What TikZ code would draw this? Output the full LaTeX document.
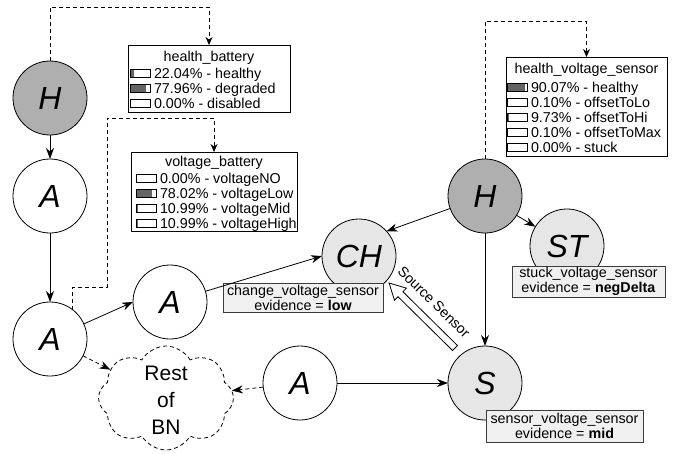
\documentclass[tikz,border=0pt]{standalone}
\usepackage{fontspec}
\setmainfont{Liberation Sans}
\usetikzlibrary{arrows.meta,shapes.symbols,calc}
\definecolor{hgray}{RGB}{175,175,175}
\definecolor{egray}{RGB}{230,230,230}
\definecolor{capgray}{RGB}{240,240,240}
\definecolor{capline}{RGB}{60,60,60}
\definecolor{bargray}{RGB}{100,100,100}
\newcommand{\tabfont}{\fontsize{14.3}{15}\selectfont}
\newcommand{\circfont}{\fontsize{32}{36}\selectfont\itshape}
\newcommand{\probrow}[5]{%
  \fill[bargray] (#2,#3-4) rectangle ++(20*#4,8);
  \draw[line width=0.8pt] (#2,#3-4) rectangle ++(20,8);
  \node[anchor=base west,font=\tabfont] (#1) at (#2+24,#3+5) {#5};
}
\begin{document}
\begin{tikzpicture}[x=1pt,y=-1pt,
  every node/.style={inner sep=0pt,outer sep=0pt},
  circ/.style={circle,draw=black,line width=0.8pt,minimum size=74pt,font=\circfont},
  hn/.style={circ,fill=hgray},
  an/.style={circ,fill=white},
  en/.style={circ,fill=egray},
  arr/.style={line width=0.8pt,-{Stealth[length=11pt,width=8pt]}},
  darr/.style={arr,dash pattern=on 4pt off 3pt},
  sdarr/.style={line width=0.8pt,dash pattern=on 4pt off 3pt,-{Stealth[length=8pt,width=7pt]}},
  infobox/.style={rectangle,draw=black,line width=0.8pt,fill=white,anchor=north west},
  capbox/.style={rectangle,draw=capline,line width=0.8pt,fill=capgray,align=center,font=\tabfont}
]
\useasboundingbox (0,0) rectangle (680,453);

% circles
\node[hn] (h1) at (50,98) {H};
\node[an] (a1) at (50,196) {A};
\node[an] (a2) at (50,339) {A};
\node[an] (a3) at (170,302) {A};
\node[an] (a4) at (300,383) {A};
\node[en] (ch) at (359,256) {CH};
\node[hn] (h2) at (485,196) {H};
\node[en] (st) at (567,246) {ST};
\node[en] (s) at (485,383) {S};

% captions
\node[capbox,minimum width=160pt,minimum height=29pt] (chcap) at (303,297.5) {change\_voltage\_sensor\\evidence = \textbf{low}};
\node[capbox,minimum width=153pt,minimum height=31pt] (stcap) at (588.5,281.5) {stuck\_voltage\_sensor\\evidence = \textbf{negDelta}};
\node[capbox,minimum width=157pt,minimum height=32pt] (scap) at (564.5,426) {sensor\_voltage\_sensor\\evidence = \textbf{mid}};

% cloud
\node[cloud,cloud puffs=8,cloud puff arc=120,cloud ignores aspect,draw,line width=0.8pt,dash pattern=on 4pt off 3pt,minimum width=135pt,minimum height=104pt] (rest) at (166,398) {};
\node[align=center,font=\fontsize{21}{27}\selectfont] (restlbl) at (166,400) {Rest\\of\\BN};

% info boxes
\node[infobox,minimum width=162pt,minimum height=67pt] (hb) at (128,45) {};
\node[anchor=base,font=\tabfont] (hbt) at ($(hb.north)+(0,16)$) {health\_battery};
\probrow{hbr1}{130}{73}{0.2204}{22.04\% - healthy}
\probrow{hbr2}{130}{88}{0.7796}{77.96\% - degraded}
\probrow{hbr3}{130}{103}{0}{0.00\% - disabled}

\node[infobox,minimum width=166pt,minimum height=79pt] (vb) at (131,152) {};
\node[anchor=base,font=\tabfont] (vbt) at ($(vb.north)+(0,14)$) {voltage\_battery};
\probrow{vbr1}{136}{178}{0}{0.00\% - voltageNO}
\probrow{vbr2}{136}{193}{0.7802}{78.02\% - voltageLow}
\probrow{vbr3}{136}{208}{0.1099}{10.99\% - voltageMid}
\probrow{vbr4}{136}{223}{0.1099}{10.99\% - voltageHigh}

\node[infobox,minimum width=161pt,minimum height=99pt] (hvs) at (506,57) {};
\node[anchor=base,font=\tabfont] (hvst) at ($(hvs.north)+(0,16)$) {health\_voltage\_sensor};
\probrow{hvr1}{507}{87}{0.9007}{90.07\% - healthy}
\probrow{hvr2}{507}{102}{0.001}{0.10\% - offsetToLo}
\probrow{hvr3}{507}{117}{0.0973}{9.73\% - offsetToHi}
\probrow{hvr4}{507}{132}{0.001}{0.10\% - offsetToMax}
\probrow{hvr5}{507}{147}{0}{0.00\% - stuck}

% connectors
\draw[arr] (h1) -- (a1);
\draw[arr] (a1) -- (a2);
\draw[arr] (a2) -- (a3.west);
\draw[arr] (a3) -- (ch.west);
\draw[arr] (h2) -- (ch.42);
\draw[arr] (h2) -- (st);
\draw[arr] (h2) -- (s);
\draw[arr] (a4) -- (s);
\draw[darr] (a2) -- (rest);
\draw[darr] (a4) -- (rest);

\coordinate (vbk1) at (107,287);
\draw[sdarr] (h1.north) |- ($(hb.north)+(0,-38)$) -- (hb.north);
\draw[sdarr] (h2.north) |- ($(hvs.north)+(0,-36)$) -- (hvs.north);
\draw[sdarr] (a2.52) |- (vbk1) |- ($(vb.north)+(0,-34)$) -- (vb.north);

% source sensor hollow arrow
\begin{scope}[shift={(455,348)},rotate=135.4]
  \draw[line width=0.8pt,fill=white] (0,3.5) -- (76.6,3.5) -- (76.6,8.5) -- (92.6,0) -- (76.6,-8.5) -- (76.6,-3.5) -- (0,-3.5) -- cycle;
\end{scope}
\node[font=\tabfont,rotate=-44.6] (srclbl) at (434,302) {Source Sensor};
\end{tikzpicture}
\end{document}
